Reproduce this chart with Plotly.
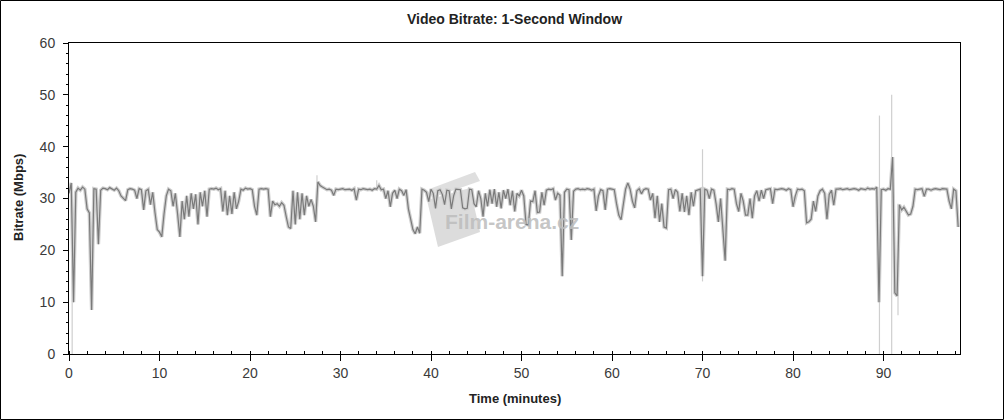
import plotly.graph_objects as go

# ---------------- data ----------------
STEP_MIN = 0.25  # sampling step of the transcribed series, minutes

# dark series: video bitrate (Mbps), one row = 5 minutes (4 samples per minute)
bitrate_mbps = [
    31.0, 33.0, 10.0, 31.2, 32.0, 31.6, 32.2, 31.8, 28.0, 27.2, 8.5, 31.9, 31.8, 21.2, 31.6, 32.0, 31.9, 31.7, 32.1, 31.8,
    31.6, 32.0, 31.5, 30.5, 30.0, 29.6, 31.7, 31.9, 31.8, 31.6, 30.0, 31.9, 31.7, 27.8, 31.5, 31.8, 28.8, 31.2, 27.3, 24.0,
    23.5, 22.6, 27.0, 30.5, 31.8, 31.5, 28.5, 31.0, 27.0, 22.6, 29.5, 26.0, 30.5, 26.5, 31.0, 28.0, 30.8, 25.0, 31.2, 28.5,
    31.5, 26.5, 31.8, 31.9, 31.8, 32.0, 31.7, 31.9, 27.5, 31.5, 26.8, 30.5, 27.0, 31.2, 28.0, 29.5, 31.8, 31.6, 32.0, 31.8,
    31.9, 31.7, 28.5, 26.8, 31.8, 31.9, 31.8, 31.9, 31.8, 26.5, 29.5, 28.8, 29.0, 28.5, 29.2, 28.7, 26.5, 24.5, 24.2, 31.5,
    25.0, 31.2, 26.0, 31.0, 26.8, 30.5, 28.5, 29.8, 28.5, 25.5, 33.2, 32.5, 32.2, 31.9, 31.7, 31.8, 31.6, 30.6, 31.8, 31.7,
    31.8, 31.9, 31.7, 31.8, 31.8, 31.6, 31.9, 29.7, 31.8, 31.7, 31.9, 31.8, 31.7, 31.8, 31.6, 31.9, 31.8, 32.5, 31.7, 31.8,
    30.0, 31.5, 28.4, 31.0, 31.6, 30.0, 31.8, 31.5, 30.6, 31.7, 28.0, 26.0, 24.0, 23.2, 24.5, 23.3, 31.8, 31.6, 31.2, 29.4,
    31.8, 31.0, 28.1, 31.5, 31.7, 30.8, 28.8, 31.6, 31.5, 28.0, 30.5, 31.8, 31.8, 31.7, 28.2, 28.0, 28.1, 31.8, 31.7, 29.0,
    28.4, 31.5, 30.0, 26.5, 31.0, 28.5, 31.7, 29.0, 31.8, 28.4, 31.2, 28.1, 31.6, 30.0, 31.8, 28.7, 31.5, 27.5, 31.0, 30.5,
    31.6, 30.5, 25.0, 24.9, 29.5, 29.4, 31.5, 27.3, 27.4, 31.2, 28.7, 31.6, 31.8, 31.7, 31.9, 29.7, 31.0, 30.6, 15.0, 31.2,
    31.8, 31.7, 22.0, 31.4, 31.8, 31.9, 31.7, 31.8, 31.7, 31.9, 31.8, 31.6, 31.8, 27.6, 30.5, 31.7, 31.5, 27.8, 31.8, 31.9,
    31.8, 31.7, 29.0, 26.8, 25.9, 28.5, 31.8, 33.0, 31.8, 29.5, 28.2, 31.5, 31.9, 30.9, 31.7, 31.9, 31.8, 29.7, 31.0, 26.2,
    30.5, 25.5, 29.0, 24.5, 24.3, 31.7, 31.8, 30.0, 31.7, 31.2, 27.5, 31.0, 27.4, 30.5, 26.8, 31.2, 28.5, 31.5, 31.6, 31.8,
    15.0, 31.8, 31.6, 30.0, 31.8, 31.6, 29.0, 25.5, 30.0, 24.2, 18.0, 31.8, 31.7, 31.9, 31.8, 29.0, 27.5, 31.0, 29.5, 26.8,
    26.8, 30.0, 26.2, 30.5, 31.5, 29.5, 31.6, 30.0, 31.7, 31.8, 31.9, 29.0, 31.8, 31.7, 31.8, 31.9, 31.8, 31.6, 31.9, 31.7,
    28.4, 30.5, 31.8, 31.7, 31.8, 31.5, 25.3, 25.5, 26.0, 29.5, 27.5, 30.5, 31.5, 31.8, 31.0, 26.0, 30.8, 31.6, 28.7, 31.8,
    31.8, 31.9, 31.7, 31.8, 31.9, 31.7, 31.8, 31.9, 31.8, 31.6, 31.9, 31.8, 31.7, 32.0, 31.8, 31.9, 31.8, 32.2, 10.0, 31.7,
    31.8, 31.6, 31.9, 31.8, 38.0, 11.8, 11.2, 28.8, 27.8, 28.3, 27.6, 26.8, 27.0, 28.5, 31.8, 31.7, 31.8, 31.9, 30.4, 31.8,
    31.8, 31.6, 31.8, 31.9, 31.8, 31.7, 31.9, 31.8, 31.8, 29.5, 28.0, 31.8, 31.5, 24.5,
]
time_min = [i * STEP_MIN for i in range(len(bitrate_mbps))]

# light (1-second peak) spikes: time, low, high
spike_time = [0.35, 27.4, 34.0, 70.0, 89.55, 90.9, 91.6]
spike_low = [0.0, 31.0, 31.5, 14.0, 0.0, 0.0, 7.5]
spike_high = [31.0, 34.5, 33.5, 39.5, 46.0, 50.0, 29.0]

x_ticks = [0, 10, 20, 30, 40, 50, 60, 70, 80, 90]
y_ticks = [0, 10, 20, 30, 40, 50, 60]
X_MAX = 98.45
Y_MAX = 60

# ---------------- figure ----------------
W, H = 1004, 420
L, R, T, B = 69, 44, 43, 66
PW, PH = W - L - R, H - T - B


def px(xp):
    return (xp - L) / PW


def py(yp):
    return (H - B - yp) / PH


FONT = "Arial, Liberation Sans, sans-serif"
DARK = "#7a7a7a"
LIGHT = "#cfcfcf"

sx, sy = [], []
for t, lo, hi in zip(spike_time, spike_low, spike_high):
    sx += [t, t, None]
    sy += [lo, hi, None]

fig = go.Figure()
fig.add_trace(go.Scatter(x=sx, y=sy, mode="lines", line=dict(color=LIGHT, width=1.2),
                         hoverinfo="skip", showlegend=False))
fig.add_trace(go.Scatter(x=time_min, y=bitrate_mbps, mode="lines",
                         line=dict(color=LIGHT, width=3.5), hoverinfo="skip", showlegend=False))
fig.add_trace(go.Scatter(x=time_min, y=bitrate_mbps, mode="lines",
                         line=dict(color=DARK, width=1.2), showlegend=False))

tickfont = dict(family=FONT, size=14, color="#3a3a3a")
common_x = dict(range=[0, X_MAX], tickvals=x_ticks, showgrid=False, zeroline=False)
common_y = dict(range=[0, Y_MAX], tickvals=y_ticks, showgrid=False, zeroline=False)

fig.update_layout(
    width=W, height=H,
    margin=dict(l=L, r=R, t=T, b=B, autoexpand=False),
    paper_bgcolor="white", plot_bgcolor="white",
    title=dict(text="<b>Video Bitrate: 1-Second Window</b>", x=px((L + W - R) / 2), xref="paper",
               xanchor="center", y=1 - 19 / H, yref="container", yanchor="middle",
               font=dict(family=FONT, size=14, color="#222222")),
    xaxis=dict(**common_x, showline=True, linecolor="black", linewidth=1, mirror=True,
               ticks="outside", ticklen=6, tickcolor="black", tickfont=tickfont,
               minor=dict(dtick=2, ticks="inside", ticklen=3, tickcolor="black")),
    xaxis2=dict(**common_x, overlaying="x", anchor="y", side="bottom", showline=False,
                ticks="inside", ticklen=5, tickcolor="black", showticklabels=False, mirror="ticks",
                minor=dict(dtick=2, ticks="inside", ticklen=3, tickcolor="black")),
    yaxis=dict(**common_y, showline=True, linecolor="black", linewidth=1, mirror=True,
               ticks="outside", ticklen=5, tickcolor="black", tickfont=tickfont,
               ticklabelstandoff=5,
               minor=dict(dtick=2, ticks="outside", ticklen=2, tickcolor="black")),
    yaxis2=dict(**common_y, overlaying="y", anchor="x", side="right", showline=False,
                ticks="outside", ticklen=5, tickcolor="black", tickfont=tickfont,
                ticklabelstandoff=4,
                minor=dict(dtick=2, ticks="outside", ticklen=2, tickcolor="black")),
    yaxis3=dict(**common_y, overlaying="y", anchor="x", side="left", showline=False,
                ticks="inside", ticklen=5, tickcolor="black", showticklabels=False, mirror="ticks",
                minor=dict(dtick=2, ticks="inside", ticklen=4, tickcolor="black")),
    showlegend=False,
)

# axis titles
fig.add_annotation(text="<b>Time (minutes)</b>", xref="paper", yref="paper",
                   x=px(515), y=py(398), showarrow=False, xanchor="center", yanchor="middle",
                   font=dict(family=FONT, size=13, color="#222222"))
fig.add_annotation(text="<b>Bitrate (Mbps)</b>", xref="paper", yref="paper",
                   x=px(18), y=py(198), showarrow=False, textangle=-90,
                   xanchor="center", yanchor="middle",
                   font=dict(family=FONT, size=13, color="#222222"))

# watermark (decoration)
fig.add_annotation(text="<b>Film-arena.cz</b>", xref="paper", yref="paper",
                   x=px(512), y=py(221), showarrow=False, xanchor="center", yanchor="middle",
                   font=dict(family=FONT, size=21, color="rgba(190,190,190,0.9)"))


def poly(points):
    s = "M " + " L ".join(f"{px(a):.4f},{py(b):.4f}" for a, b in points) + " Z"
    return s


fig.add_shape(type="path", xref="paper", yref="paper", layer="below",
              path=poly([(427, 200), (438, 247), (480, 232), (470, 188)]),
              fillcolor="rgba(205,205,205,0.7)", line=dict(width=0))
fig.add_shape(type="path", xref="paper", yref="paper", layer="below",
              path=poly([(432, 188), (475, 172), (480, 181), (437, 196)]),
              fillcolor="rgba(210,210,210,0.7)", line=dict(width=0))

# outer frame
fig.add_shape(type="rect", xref="paper", yref="paper",
              x0=px(0.5), x1=px(W - 0.5), y0=py(H - 0.5), y1=py(0.5),
              line=dict(color="black", width=1), fillcolor="rgba(0,0,0,0)")

fig.write_html("out.html", config={"displayModeBar": False},
               post_script="document.body.style.margin='0px';document.body.style.padding='0px';")
